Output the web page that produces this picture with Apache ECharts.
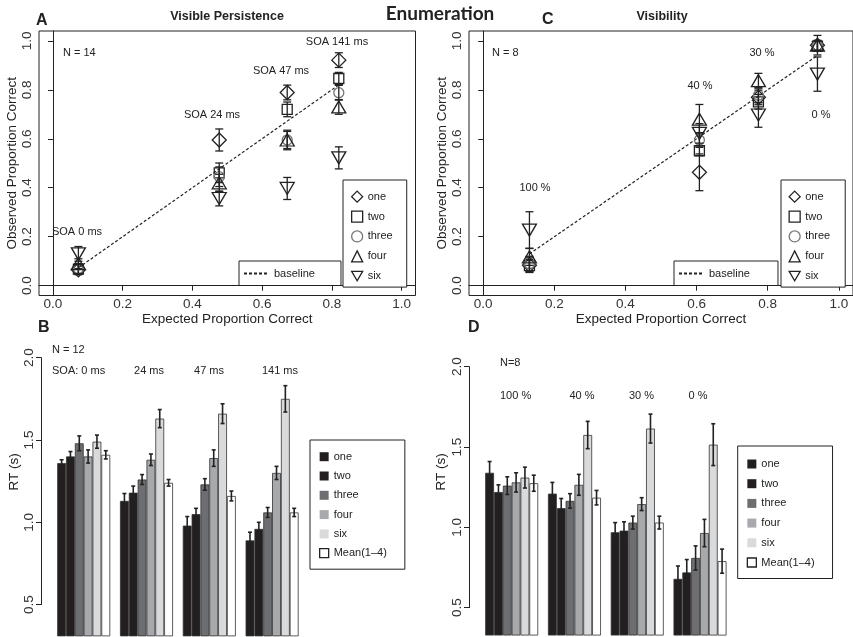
<!DOCTYPE html>
<html>
<head>
<meta charset="utf-8">
<script src="https://cdn.jsdelivr.net/npm/echarts@6/dist/echarts.min.js"></script>
<style>
  html, body { margin: 0; padding: 0; background: #fff; }
  #chart { width: 853px; height: 637px; }
</style>
</head>
<body>
<div id="chart"></div>
<script>
// set sizes shown in the scatter panels
const sizes = ['one', 'two', 'three', 'four', 'six'];

// A - visible persistence
const soaLabels = ['SOA 0 ms', 'SOA 24 ms', 'SOA 47 ms', 'SOA 141 ms'];
const expectedA = [0.073, 0.477, 0.672, 0.82];
const observedA = [
  [0.065, 0.595, 0.789, 0.921],
  [0.068, 0.461, 0.720, 0.846],
  [0.070, 0.445, 0.595, 0.788],
  [0.090, 0.420, 0.595, 0.730],
  [0.130, 0.356, 0.397, 0.522]
];
const errA = [
  [0.020, 0.045, 0.030, 0.030],
  [0.020, 0.040, 0.030, 0.025],
  [0.020, 0.040, 0.035, 0.030],
  [0.020, 0.035, 0.040, 0.030],
  [0.030, 0.030, 0.045, 0.045]
];

// C - visibility
const visLabels = ['100 %', '40 %', '30 %', '0 %'];
const expectedC = [0.13, 0.608, 0.774, 0.94];
const observedC = [
  [0.084, 0.463, 0.769, 0.982],
  [0.082, 0.551, 0.751, 0.978],
  [0.090, 0.595, 0.778, 0.980],
  [0.118, 0.680, 0.837, 0.982],
  [0.227, 0.622, 0.697, 0.864]
];
const errC = [
  [0.030, 0.075, 0.030, 0.020],
  [0.025, 0.020, 0.030, 0.020],
  [0.030, 0.030, 0.030, 0.020],
  [0.035, 0.060, 0.030, 0.040],
  [0.075, 0.040, 0.050, 0.070]
];

// B / D - reaction times
const barNames = ['one', 'two', 'three', 'four', 'six', 'Mean(1\u20134)'];
const soaBarLabels = ['SOA: 0 ms', '24 ms', '47 ms', '141 ms'];
const rtB = [
  [1.36, 1.13, 0.98, 0.89],
  [1.40, 1.18, 1.05, 0.96],
  [1.48, 1.26, 1.23, 1.06],
  [1.40, 1.38, 1.39, 1.30],
  [1.49, 1.63, 1.66, 1.75],
  [1.41, 1.24, 1.16, 1.06]
];
const errB = [
  [0.020, 0.045, 0.055, 0.050],
  [0.030, 0.040, 0.035, 0.040],
  [0.045, 0.030, 0.035, 0.030],
  [0.040, 0.035, 0.050, 0.040],
  [0.040, 0.055, 0.060, 0.080],
  [0.025, 0.020, 0.030, 0.025]
];
const rtD = [
  [1.34, 1.21, 0.97, 0.68],
  [1.22, 1.12, 0.98, 0.72],
  [1.26, 1.165, 1.03, 0.81],
  [1.28, 1.265, 1.145, 0.965],
  [1.31, 1.575, 1.615, 1.515],
  [1.275, 1.185, 1.03, 0.79]
];
const errD = [
  [0.070, 0.070, 0.060, 0.080],
  [0.045, 0.060, 0.055, 0.080],
  [0.055, 0.045, 0.040, 0.075],
  [0.060, 0.065, 0.040, 0.085],
  [0.065, 0.085, 0.090, 0.130],
  [0.050, 0.045, 0.040, 0.075]
];
const propTicks = [0, 0.2, 0.4, 0.6, 0.8, 1.0];

const FONT = '"Liberation Sans", Arial, sans-serif';
const INK = '#222';
const symbols = ['diamond', 'rect', 'circle', 'triangle', 'path://M0,0 L14,0 L7,12 Z'];
const symbolSizes = [[14, 14], [10, 10], [10, 10], [14, 12], [14, 12]];
const symbolColors = [INK, INK, '#777', INK, INK];
const barColors = ['#231f20', '#231f20', '#6d6e71', '#a7a9ac', '#d9dadb', '#ffffff'];
const BAR_GAP = 0.156;

function propAxis(gridIndex, isX, name) {
  return {
    type: 'value', gridIndex, min: -0.04, max: 1.04,
    name, nameLocation: 'middle', nameGap: isX ? 16 : 19.5,
    nameTextStyle: { fontFamily: FONT, fontSize: 13.5, color: INK },
    axisLine: { show: true, lineStyle: { color: INK } },
    axisTick: { show: true, length: 5, customValues: propTicks, lineStyle: { color: INK } },
    axisLabel: {
      customValues: propTicks, formatter: v => v.toFixed(1), rotate: isX ? 0 : 90,
      margin: isX ? 2 : 5, fontFamily: FONT, fontSize: 13.5, color: '#333'
    },
    splitLine: { show: false }
  };
}

function rtAxis(gridIndex) {
  return {
    type: 'value', gridIndex, min: 0.5, max: 2.0, interval: 0.5,
    axisLine: { show: true, lineStyle: { color: INK } },
    axisTick: { show: true, length: 5, lineStyle: { color: INK } },
    axisLabel: { formatter: v => v.toFixed(1), rotate: 90, margin: 5, fontFamily: FONT, fontSize: 13.5, color: '#333' },
    splitLine: { show: false }
  };
}

function scatterSeries(g, expected, observed, errs) {
  const out = sizes.map((name, si) => ({
    type: 'scatter', name, xAxisIndex: g, yAxisIndex: g,
    data: expected.map((x, i) => [x, observed[si][i]]),
    symbol: symbols[si], symbolSize: symbolSizes[si],
    itemStyle: { color: 'rgba(0,0,0,0)', borderColor: symbolColors[si], borderWidth: 1.3, opacity: 1 },
    z: 3, silent: true
  }));
  out.push({
    type: 'line', name: 'baseline', xAxisIndex: g, yAxisIndex: g,
    data: expected.map(x => [x, x]), symbol: 'none', itemStyle: { color: INK },
    lineStyle: { color: INK, width: 1.2, type: [3, 2] }, z: 2, silent: true
  });
  const errData = [];
  sizes.forEach((_, si) => expected.forEach((x, i) => errData.push([x, observed[si][i], errs[si][i]])));
  out.push({
    type: 'custom', xAxisIndex: g, yAxisIndex: g, data: errData, z: 4, silent: true, clip: false,
    renderItem: (params, api) => {
      const x = api.value(0), y = api.value(1), e = api.value(2);
      const lo = api.coord([x, y - e]), hi = api.coord([x, y + e]);
      const st = { stroke: INK, lineWidth: 1.3 };
      return {
        type: 'group', children: [
          { type: 'line', shape: { x1: lo[0], y1: lo[1], x2: hi[0], y2: hi[1] }, style: st },
          { type: 'line', shape: { x1: lo[0] - 4, y1: lo[1], x2: lo[0] + 4, y2: lo[1] }, style: st },
          { type: 'line', shape: { x1: hi[0] - 4, y1: hi[1], x2: hi[0] + 4, y2: hi[1] }, style: st }
        ]
      };
    }
  });
  return out;
}

function barSeries(g, values, errs) {
  const out = barNames.map((name, si) => ({
    type: 'bar', name, xAxisIndex: g, yAxisIndex: g, data: values[si],
    barGap: '0%', barCategoryGap: (BAR_GAP * 100) + '%',
    itemStyle: { color: barColors[si], borderColor: '#333', borderWidth: 0.8 },
    silent: true
  }));
  const errData = [];
  values.forEach((arr, si) => arr.forEach((v, ci) => errData.push([ci, v, si, errs[si][ci]])));
  out.push({
    type: 'custom', xAxisIndex: g, yAxisIndex: g, data: errData, z: 5, silent: true,
    encode: { x: 0, y: 1 },
    renderItem: (params, api) => {
      const ci = api.value(0), v = api.value(1), si = api.value(2), e = api.value(3);
      const catW = api.size([1, 0])[0];
      const groupW = catW * (1 - BAR_GAP);
      const bw = groupW / barNames.length;
      const cx = api.coord([ci, v])[0] - groupW / 2 + (si + 0.5) * bw;
      const yLo = api.coord([ci, v - e])[1], yHi = api.coord([ci, v + e])[1];
      const st = { stroke: INK, lineWidth: 1.6 };
      return {
        type: 'group', children: [
          { type: 'line', shape: { x1: cx, y1: yLo, x2: cx, y2: yHi }, style: st },
          { type: 'line', shape: { x1: cx - 2, y1: yLo, x2: cx + 2, y2: yLo }, style: st },
          { type: 'line', shape: { x1: cx - 2, y1: yHi, x2: cx + 2, y2: yHi }, style: st }
        ]
      };
    }
  });
  return out;
}

const symbolLegendData = sizes.map((name, si) => ({
  name, icon: symbols[si],
  itemStyle: { color: 'rgba(0,0,0,0)', borderColor: symbolColors[si], borderWidth: 1.3 }
}));
const baselineLegendData = [{ name: 'baseline', itemStyle: { opacity: 0 } }];
const barLegendData = barNames.map((name, si) => ({
  name, icon: 'rect',
  itemStyle: si === 5
    ? { color: '#fff', borderColor: INK, borderWidth: 1.3 }
    : { color: barColors[si], borderWidth: 0 }
}));

function boxLegend(extra) {
  return Object.assign({
    orient: 'vertical', selectedMode: false, backgroundColor: '#fff',
    borderColor: INK, borderWidth: 1, borderRadius: 0,
    textStyle: { fontFamily: FONT, fontSize: 11, color: INK, lineHeight: 12 }
  }, extra);
}

function txt(text, x, y, opts) {
  opts = opts || {};
  return {
    type: 'text', x, y, rotation: opts.rot || 0, silent: true,
    style: {
      text, fill: INK, align: opts.align || 'left', verticalAlign: 'middle',
      font: opts.font || ('11px ' + FONT)
    }
  };
}

const bold16 = 'bold 16px ' + FONT;
const titleFont = 'bold 12.5px ' + FONT;
const lblPosA = [[77, 232], [212, 115], [281, 71], [337, 42]];
const lblPosC = [[535, 188], [700, 86], [762, 53], [821, 115]];

const graphics = [
  txt('Enumeration', 440, 14, { align: 'center', font: 'bold 19px Lato, "Open Sans", sans-serif' }),
  txt('A', 36, 21, { font: bold16 }),
  txt('Visible Persistence', 227, 17, { align: 'center', font: titleFont }),
  txt('C', 542, 20, { font: bold16 }),
  txt('Visibility', 662, 17, { align: 'center', font: titleFont }),
  txt('N = 14', 63, 53),
  txt('N = 8', 492, 53),
  txt('B', 38, 328, { font: bold16 }),
  txt('N = 12', 52, 350),
  txt('D', 468, 328, { font: bold16 }),
  txt('N=8', 500, 363),
  txt('RT (s)', 14, 472, { align: 'center', rot: Math.PI / 2, font: '13.5px ' + FONT }),
  txt('RT (s)', 441, 472, { align: 'center', rot: Math.PI / 2, font: '13.5px ' + FONT })
];
soaLabels.forEach((t, i) => graphics.push(txt(t, lblPosA[i][0], lblPosA[i][1], { align: 'center' })));
visLabels.forEach((t, i) => graphics.push(txt(t, lblPosC[i][0], lblPosC[i][1], { align: 'center' })));
const soaBarPos = [[52, 'left'], [149, 'center'], [209, 'center'], [280, 'center']];
soaBarLabels.forEach((t, i) => graphics.push(txt(t, soaBarPos[i][0], 371, { align: soaBarPos[i][1] })));
const visBarPos = [[500, 'left'], [582, 'center'], [641.5, 'center'], [698, 'center']];
visLabels.forEach((t, i) => graphics.push(txt(t, visBarPos[i][0], 396, { align: visBarPos[i][1] })));

const groups = ['g1', 'g2', 'g3', 'g4'];

const option = {
  backgroundColor: '#fff',
  animation: false,
  grid: [
    { left: 39, top: 31, width: 376.5, height: 264.5, show: true, borderColor: INK, borderWidth: 1, backgroundColor: 'transparent' },
    { left: 469, top: 31, width: 387, height: 264.5, show: true, borderColor: INK, borderWidth: 1, backgroundColor: 'transparent' },
    { left: 41, top: 357.7, width: 10, height: 246.9 },
    // bar grids run below the 0.5 tick, down to the bottom edge
    { left: 52.3, top: 357.7, width: 251.2, height: 278.2 },
    { left: 469, top: 366.7, width: 10, height: 241 },
    { left: 480.3, top: 366.7, width: 251.1, height: 268.4 }
  ],
  xAxis: [
    propAxis(0, true, 'Expected Proportion Correct'),
    propAxis(1, true, 'Expected Proportion Correct'),
    { type: 'value', gridIndex: 2, min: 0, max: 1, show: false },
    { type: 'category', gridIndex: 3, data: groups, show: false },
    { type: 'value', gridIndex: 4, min: 0, max: 1, show: false },
    { type: 'category', gridIndex: 5, data: groups, show: false }
  ],
  yAxis: [
    propAxis(0, false, 'Observed Proportion Correct'),
    propAxis(1, false, 'Observed Proportion Correct'),
    rtAxis(2),
    { type: 'value', gridIndex: 3, min: 0.31, max: 2, show: false },
    rtAxis(4),
    { type: 'value', gridIndex: 5, min: 0.33, max: 2, show: false }
  ],
  legend: [
    boxLegend({ left: 343, top: 180, data: symbolLegendData, itemWidth: 11, itemHeight: 11, itemGap: 7.6, itemTextGap: 7, padding: [10.5, 14, 5, 8] }),
    boxLegend({ left: 239, top: 261, data: baselineLegendData, itemWidth: 25, itemHeight: 12, itemTextGap: 14, padding: [6.5, 26, 6, 4] }),
    boxLegend({ left: 781, top: 180, data: symbolLegendData, itemWidth: 11, itemHeight: 11, itemGap: 7.6, itemTextGap: 7.5, padding: [10.5, 15, 5, 7.5] }),
    boxLegend({ left: 674, top: 261, data: baselineLegendData, itemWidth: 25, itemHeight: 12, itemTextGap: 15, padding: [6.5, 28, 6, 4] }),
    boxLegend({ left: 310, top: 440, data: barLegendData, itemWidth: 9, itemHeight: 9, itemGap: 7.3, itemTextGap: 8, padding: [10.7, 18, 10, 9] }),
    boxLegend({ left: 737.7, top: 446, data: barLegendData, itemWidth: 9, itemHeight: 9, itemGap: 7.7, itemTextGap: 8, padding: [12, 18, 10, 9] })
  ],
  graphic: graphics,
  series: [].concat(
    scatterSeries(0, expectedA, observedA, errA),
    scatterSeries(1, expectedC, observedC, errC),
    barSeries(3, rtB, errB),
    barSeries(5, rtD, errD)
  )
};

const chart = echarts.init(document.getElementById('chart'));
chart.setOption(option);
window.addEventListener('resize', () => chart.resize());
</script>
</body>
</html>
